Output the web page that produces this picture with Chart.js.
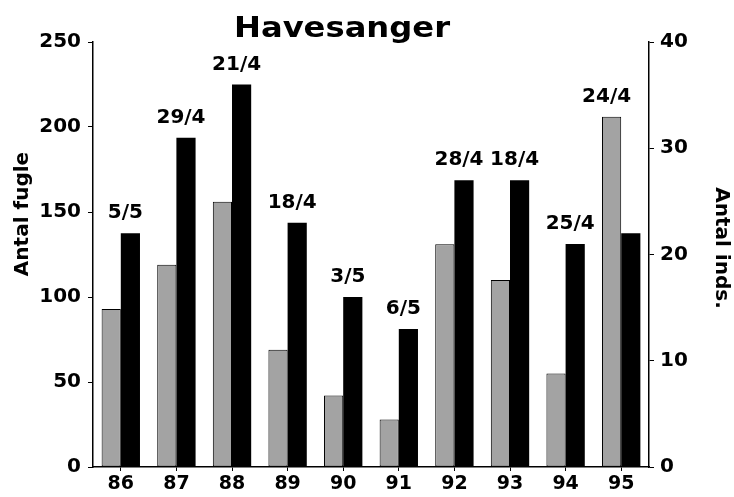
<!DOCTYPE html>
<html lang="da">
<head>
    <meta charset="UTF-8">
    <title>Havesanger</title>
    <style>
        html, body { margin: 0; padding: 0; background: #fff; }
        #wrap { width: 734px; height: 497px; }
    </style>
</head>
<body>
    <div id="wrap"><canvas id="chart"></canvas></div>

    <script src="https://cdn.jsdelivr.net/npm/chart.js"></script>
    <script>
        // data
        const years = ['86', '87', '88', '89', '90', '91', '92', '93', '94', '95'];
        const antalFugle = [93, 119, 156, 69, 42, 28, 131, 110, 55, 206];   // grey bars, left axis
        const antalInds = [22, 31, 36, 23, 16, 13, 27, 27, 21, 22];        // black bars, right axis
        const dateLabels = ['5/5', '29/4', '21/4', '18/4', '3/5', '6/5', '28/4', '18/4', '25/4', '24/4'];
        const leftTicks = [0, 250, 50];   // min, max, step
        const rightTicks = [0, 40, 10];

        const chartTitle = 'Havesanger';
        const leftTitle = 'Antal fugle';
        const rightTitle = 'Antal inds.';

        const FONT = '"DejaVu Sans", sans-serif';

        // title, axis titles and the date labels over each pair of bars
        const textPlugin = {
            id: 'texts',
            afterDraw(chart) {
                const ctx = chart.ctx;
                const grey = chart.getDatasetMeta(0).data;
                const black = chart.getDatasetMeta(1).data;
                ctx.save();
                ctx.fillStyle = '#000';
                ctx.textAlign = 'center';

                ctx.font = 'bold 20px ' + FONT;
                ctx.textBaseline = 'alphabetic';
                dateLabels.forEach((txt, i) => {
                    const bar = grey[i].y < black[i].y ? grey[i] : black[i];
                    ctx.fillText(txt, bar.x - 5, bar.y - 15);
                });

                ctx.save();
                ctx.font = 'bold 28px ' + FONT;
                ctx.translate(342, 37);
                ctx.scale(1.15, 1);
                ctx.fillText(chartTitle, 0, 0);
                ctx.restore();

                ctx.font = 'bold 20px ' + FONT;
                ctx.textBaseline = 'middle';
                ctx.save();
                ctx.translate(23, 214);
                ctx.rotate(-Math.PI / 2);
                ctx.fillText(leftTitle, 0, 0);
                ctx.restore();

                ctx.save();
                ctx.translate(721, 248);
                ctx.rotate(Math.PI / 2);
                ctx.fillText(rightTitle, 0, 0);
                ctx.restore();

                ctx.restore();
            }
        };

        const axisGrid = { drawOnChartArea: false, drawTicks: true, tickLength: 5, color: '#000', lineWidth: 1 };
        const axisBorder = { display: true, color: '#000', width: 1.5 };

        new Chart(document.getElementById('chart'), {
            type: 'bar',
            data: {
                labels: years,
                datasets: [{
                    label: leftTitle,
                    data: antalFugle,
                    yAxisID: 'y',
                    backgroundColor: '#a3a3a3',
                    borderColor: '#000',
                    borderWidth: 1,
                    borderSkipped: false,
                    barPercentage: 1,
                    categoryPercentage: 0.69
                }, {
                    label: rightTitle,
                    data: antalInds,
                    yAxisID: 'y1',
                    backgroundColor: '#000',
                    borderWidth: 0,
                    barPercentage: 1,
                    categoryPercentage: 0.69
                }]
            },
            options: {
                responsive: true,
                maintainAspectRatio: false,
                animation: false,
                layout: { padding: { top: 42, left: 0, right: 0, bottom: 0 } },
                plugins: {
                    legend: { display: false },
                    tooltip: { enabled: false },
                    title: { display: false }
                },
                scales: {
                    x: {
                        offset: true,
                        grid: { drawOnChartArea: false, drawTicks: true, tickLength: 4, offset: false, color: '#000' },
                        border: axisBorder,
                        ticks: { color: '#000', font: { family: FONT, size: 19, weight: 'bold' }, padding: 2, maxRotation: 0 },
                        afterFit(scale) { scale.height = 30; }
                    },
                    y: {
                        position: 'left',
                        min: leftTicks[0],
                        max: leftTicks[1],
                        grid: axisGrid,
                        border: axisBorder,
                        ticks: { stepSize: leftTicks[2], color: '#000', font: { family: FONT, size: 20, weight: 'bold' }, padding: 7 },
                        afterFit(scale) { scale.width = 93; }
                    },
                    y1: {
                        position: 'right',
                        min: rightTicks[0],
                        max: rightTicks[1],
                        grid: axisGrid,
                        border: axisBorder,
                        ticks: { stepSize: rightTicks[2], color: '#000', font: { family: FONT, size: 20, weight: 'bold' }, padding: 6 },
                        afterFit(scale) { scale.width = 85; }
                    }
                }
            },
            plugins: [textPlugin]
        });
    </script>
</body>
</html>
